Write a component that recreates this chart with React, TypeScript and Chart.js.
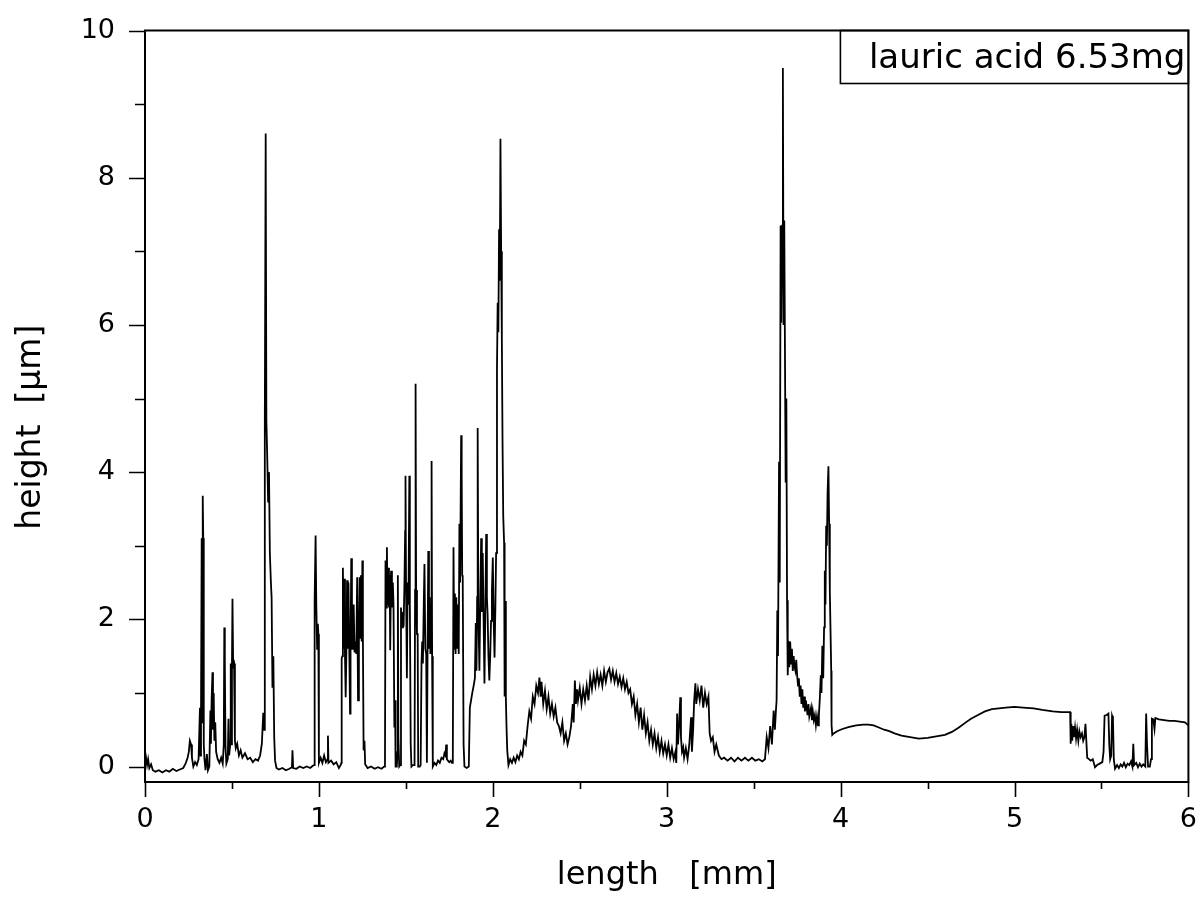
import React, { useEffect, useRef } from "react";
import { Chart, registerables } from "chart.js";

Chart.register(...registerables);

// ---- axis ticks / labels ----
const X_TICKS = [0, 1, 2, 3, 4, 5, 6];
const X_MINOR = [0.5, 1.5, 2.5, 3.5, 4.5, 5.5];
const Y_TICKS = [0, 2, 4, 6, 8, 10];
const Y_MINOR = [1, 3, 5, 7, 9];
const X_TITLE = "length   [mm]";
const Y_TITLE = "height  [µm]    ";
const LEGEND_LABEL = "lauric acid 6.53mg";

// ---- profile data: [length mm, height µm] ----
const start0to032: number[][] = [
  [0.0, 0.05], [0.006, 0.12], [0.012, 0.02], [0.018, 0.1], [0.025, -0.02], [0.035, 0.03], [0.045, -0.05],
  [0.06, -0.07], [0.08, -0.05], [0.1, -0.08], [0.12, -0.05], [0.14, -0.07], [0.16, -0.03], [0.18, -0.06],
  [0.2, -0.04], [0.22, -0.02], [0.235, 0.05], [0.245, 0.12], [0.252, 0.2], [0.258, 0.35], [0.265, 0.3],
  [0.27, 0.12], [0.278, 0.0], [0.288, 0.06], [0.298, 0.02], [0.308, 0.1],
];

const spikes032to076: number[][] = [
  [0.316, 0.8], [0.319, 0.15], [0.322, 0.7], [0.326, 3.1], [0.329, 0.6], [0.332, 3.68], [0.335, 3.1],
  [0.338, 0.3], [0.342, 0.1], [0.348, -0.05], [0.356, 0.17], [0.362, -0.05], [0.37, 0.0], [0.376, 0.76],
  [0.379, 0.31], [0.383, 0.9], [0.388, 1.28], [0.391, 0.5], [0.395, 1.0], [0.399, 0.35], [0.404, 0.6],
  [0.409, 0.2], [0.418, 0.1], [0.428, 0.05], [0.438, 0.12], [0.447, 0.04], [0.453, 0.3], [0.456, 1.89],
  [0.459, 1.41], [0.463, 0.26], [0.468, 0.04], [0.476, 0.1], [0.48, 0.65], [0.484, 0.15], [0.49, 0.3],
  [0.493, 1.4], [0.497, 0.3], [0.5, 1.37], [0.503, 2.28], [0.507, 1.37], [0.512, 1.4], [0.517, 0.35],
  [0.522, 0.25], [0.53, 0.31], [0.54, 0.15], [0.55, 0.22], [0.56, 0.12], [0.575, 0.18], [0.59, 0.1],
  [0.605, 0.12], [0.62, 0.06], [0.635, 0.1], [0.65, 0.08], [0.662, 0.15], [0.672, 0.31], [0.68, 0.73],
  [0.686, 0.5], [0.689, 4.7], [0.694, 8.6], [0.698, 4.7], [0.703, 4.2], [0.708, 3.6], [0.713, 4.0],
  [0.718, 2.9], [0.724, 2.5], [0.728, 2.3], [0.733, 1.07], [0.738, 1.5], [0.743, 0.4], [0.748, 0.08],
  [0.756, -0.02],
];

const baseline076to113: number[][] = [
  [0.77, -0.04], [0.79, -0.02], [0.81, -0.05], [0.83, -0.03], [0.845, -0.01], [0.848, 0.22], [0.852, -0.02],
  [0.87, -0.03], [0.89, 0.0], [0.91, -0.02], [0.93, 0.0], [0.95, -0.02], [0.965, 0.01], [0.972, 0.02],
  [0.974, 1.58], [0.977, 2.26], [0.981, 3.14], [0.985, 2.2], [0.99, 1.6], [0.994, 1.94], [0.997, 1.8],
  [1.0, 0.05], [1.01, 0.12], [1.02, 0.05], [1.03, 0.15], [1.04, 0.06], [1.05, 0.1], [1.052, 0.42],
  [1.055, 0.05], [1.07, 0.08], [1.085, 0.03], [1.1, 0.06], [1.115, -0.02], [1.125, 0.02],
];

const cluster113to138: number[][] = [
  [1.129, 0.05], [1.131, 1.47], [1.135, 1.5], [1.138, 2.7], [1.142, 1.6], [1.146, 2.55], [1.15, 1.5],
  [1.154, 0.94], [1.158, 1.55], [1.162, 2.53], [1.166, 1.6], [1.17, 2.5], [1.175, 1.53], [1.179, 0.72],
  [1.182, 1.55], [1.186, 2.83], [1.19, 1.6], [1.196, 1.6], [1.2, 2.2], [1.205, 1.55], [1.21, 1.7],
  [1.215, 1.53], [1.22, 2.57], [1.225, 0.9], [1.23, 1.7], [1.234, 2.57], [1.238, 1.75], [1.242, 2.6],
  [1.246, 1.7], [1.25, 2.8], [1.253, 1.75], [1.257, 0.22], [1.262, 0.35], [1.266, 0.03], [1.28, -0.02],
  [1.3, 0.0], [1.32, -0.03], [1.34, -0.01], [1.36, -0.03], [1.375, 0.0],
];

const cluster138to177: number[][] = [
  [1.38, 0.05], [1.383, 2.8], [1.387, 2.16], [1.391, 2.98], [1.395, 2.2], [1.399, 2.7], [1.403, 2.16],
  [1.407, 2.6], [1.41, 1.58], [1.415, 2.66], [1.42, 2.16], [1.425, 2.5], [1.429, 2.2], [1.434, 0.53],
  [1.438, 0.9], [1.441, 0.0], [1.448, 0.0], [1.452, 0.2], [1.454, 2.6], [1.457, 0.4], [1.462, 0.0],
  [1.468, 0.02], [1.472, 2.16], [1.478, 1.89], [1.483, 2.1], [1.487, 1.9], [1.492, 2.5], [1.496, 3.2],
  [1.498, 3.95], [1.501, 2.5], [1.506, 1.2], [1.51, 2.4], [1.515, 2.2], [1.52, 3.95], [1.523, 2.2],
  [1.528, 0.3], [1.532, 0.0], [1.54, 0.02], [1.55, 0.02], [1.553, 2.4], [1.556, 5.2], [1.559, 2.4],
  [1.564, 1.8], [1.568, 1.8], [1.571, 0.0], [1.58, 0.0], [1.585, 0.02], [1.59, 1.4], [1.594, 1.7],
  [1.598, 1.4], [1.603, 2.2], [1.607, 2.75], [1.612, 1.6], [1.617, 1.53], [1.621, 0.05], [1.625, 1.6],
  [1.629, 2.93], [1.633, 1.6], [1.637, 2.3], [1.641, 1.53], [1.645, 2.0], [1.648, 4.15], [1.651, 1.5],
  [1.655, 0.0], [1.665, 0.05], [1.675, 0.02], [1.685, 0.08], [1.695, 0.05], [1.705, 0.12], [1.715, 0.1],
  [1.722, 0.18], [1.728, 0.15], [1.732, 0.3], [1.736, 0.1], [1.742, 0.08], [1.75, 0.06], [1.758, 0.08],
  [1.765, 0.05],
];

const cluster177to209: number[][] = [
  [1.77, 0.05], [1.774, 2.98], [1.778, 1.6], [1.782, 2.35], [1.786, 1.53], [1.79, 2.3], [1.795, 1.6],
  [1.8, 2.2], [1.804, 1.53], [1.808, 3.3], [1.812, 2.5], [1.818, 4.5], [1.821, 4.0], [1.824, 2.6],
  [1.827, 2.57], [1.832, 0.3], [1.837, 0.0], [1.85, -0.02], [1.862, 0.0], [1.868, 0.8], [1.875, 0.9],
  [1.882, 1.0], [1.89, 1.1], [1.897, 1.2], [1.902, 1.95], [1.906, 1.3], [1.91, 2.3], [1.913, 4.6],
  [1.917, 2.1], [1.923, 1.3], [1.927, 2.08], [1.933, 3.1], [1.937, 2.1], [1.942, 2.9], [1.947, 2.0],
  [1.952, 1.13], [1.957, 2.1], [1.962, 3.16], [1.966, 2.3], [1.97, 2.08], [1.975, 1.5], [1.98, 1.17],
  [1.985, 1.5], [1.99, 1.98], [1.995, 2.4], [2.0, 2.84], [2.005, 2.0], [2.01, 1.48], [2.015, 2.2],
  [2.019, 2.9], [2.024, 5.4], [2.028, 6.3], [2.032, 5.9], [2.036, 7.3], [2.04, 6.6], [2.044, 8.53],
  [2.048, 7.0], [2.052, 5.8], [2.056, 4.4], [2.06, 3.4], [2.065, 3.04], [2.068, 0.95], [2.072, 2.25],
  [2.075, 0.94], [2.079, 0.53], [2.083, 0.22],
];

const humps209to363: number[][] = [
  [2.09, 0.02], [2.1, 0.1], [2.11, 0.05], [2.12, 0.12], [2.13, 0.06], [2.14, 0.15], [2.15, 0.1],
  [2.16, 0.2], [2.17, 0.15], [2.18, 0.35], [2.19, 0.3], [2.2, 0.55], [2.21, 0.75], [2.22, 0.65],
  [2.23, 0.95], [2.24, 0.85], [2.25, 1.1], [2.26, 1.0], [2.268, 1.21], [2.275, 0.95], [2.28, 1.15],
  [2.29, 0.85], [2.3, 1.03], [2.31, 0.78], [2.32, 0.95], [2.33, 0.72], [2.34, 0.85], [2.35, 0.68],
  [2.36, 0.8], [2.37, 0.6], [2.38, 0.55], [2.39, 0.45], [2.4, 0.6], [2.41, 0.35], [2.42, 0.45],
  [2.43, 0.3], [2.44, 0.4], [2.45, 0.55], [2.46, 0.85], [2.465, 0.6], [2.472, 1.17], [2.478, 0.85],
  [2.485, 1.05], [2.49, 0.9], [2.5, 1.07], [2.51, 0.85], [2.52, 1.05], [2.53, 0.9], [2.54, 1.1],
  [2.55, 0.9], [2.56, 1.22], [2.57, 1.05], [2.58, 1.25], [2.59, 1.1], [2.6, 1.28], [2.61, 1.12],
  [2.62, 1.25], [2.63, 1.1], [2.64, 1.3], [2.65, 1.15], [2.66, 1.28], [2.67, 1.33], [2.68, 1.18],
  [2.69, 1.3], [2.7, 1.15], [2.71, 1.27], [2.72, 1.12], [2.73, 1.22], [2.74, 1.08], [2.75, 1.2],
  [2.76, 1.05], [2.77, 1.15], [2.78, 1.0], [2.79, 1.05], [2.8, 0.85], [2.81, 0.95], [2.82, 0.7],
  [2.83, 0.85], [2.84, 0.6], [2.85, 0.8], [2.86, 0.5], [2.87, 0.7], [2.88, 0.45], [2.89, 0.6],
  [2.9, 0.35], [2.91, 0.5], [2.92, 0.3], [2.93, 0.45], [2.94, 0.25], [2.95, 0.4], [2.96, 0.2],
  [2.97, 0.35], [2.98, 0.18], [2.99, 0.3], [3.0, 0.15], [3.01, 0.3], [3.02, 0.12], [3.03, 0.25],
  [3.04, 0.1], [3.05, 0.2], [3.055, 0.05], [3.06, 0.72], [3.065, 0.3], [3.072, 0.6], [3.078, 0.94],
  [3.082, 0.4], [3.088, 0.2], [3.095, 0.26], [3.1, 0.12], [3.11, 0.25], [3.12, 0.1], [3.13, 0.3],
  [3.14, 0.67], [3.145, 0.2], [3.152, 0.5], [3.158, 0.9], [3.165, 1.13], [3.17, 0.85], [3.18, 1.05],
  [3.19, 0.9], [3.2, 1.1], [3.21, 0.8], [3.22, 1.0], [3.23, 0.85], [3.24, 0.95], [3.247, 0.45],
  [3.255, 0.35], [3.265, 0.4], [3.275, 0.2], [3.285, 0.3], [3.3, 0.15], [3.315, 0.1], [3.33, 0.12],
  [3.35, 0.08], [3.37, 0.12], [3.39, 0.07], [3.41, 0.12], [3.43, 0.08], [3.45, 0.12], [3.47, 0.08],
  [3.49, 0.12], [3.51, 0.08], [3.53, 0.1], [3.55, 0.07], [3.565, 0.1], [3.575, 0.4], [3.585, 0.25],
  [3.595, 0.55], [3.605, 0.3], [3.615, 0.76], [3.622, 0.5], [3.628, 0.76],
];

const spikes363to395: number[][] = [
  [3.632, 0.9], [3.636, 2.12], [3.64, 1.5], [3.646, 4.14], [3.65, 2.5], [3.655, 7.35], [3.659, 6.03],
  [3.664, 7.35], [3.668, 9.49], [3.672, 6.0], [3.676, 7.42], [3.68, 7.42], [3.684, 3.86], [3.688, 5.0],
  [3.692, 2.26], [3.696, 1.24], [3.7, 1.71], [3.705, 1.35], [3.71, 1.7], [3.715, 1.4], [3.72, 1.6],
  [3.725, 1.3], [3.73, 1.5], [3.735, 1.35], [3.74, 1.3], [3.745, 1.45], [3.75, 1.24], [3.755, 1.1],
  [3.76, 1.2], [3.765, 0.95], [3.77, 1.1], [3.775, 0.85], [3.78, 1.05], [3.785, 0.8], [3.79, 0.95],
  [3.795, 0.75], [3.8, 0.9], [3.81, 0.7], [3.815, 0.85], [3.82, 0.68], [3.83, 0.8], [3.835, 0.63],
  [3.84, 0.75], [3.846, 0.63], [3.852, 0.7], [3.858, 0.56], [3.864, 0.68], [3.87, 0.56], [3.875, 0.7],
  [3.88, 0.9], [3.886, 1.24], [3.89, 1.0], [3.895, 1.64], [3.9, 1.2], [3.905, 1.89], [3.909, 2.66],
  [3.913, 2.2], [3.917, 3.27], [3.921, 3.0], [3.925, 3.71], [3.93, 4.08], [3.934, 3.3], [3.938, 2.38],
  [3.942, 1.85], [3.946, 1.3], [3.948, 0.56], [3.952, 0.43],
];

const wave395to532: number[][] = [
  [3.96, 0.45], [3.98, 0.48], [4.01, 0.51], [4.05, 0.54], [4.09, 0.56], [4.13, 0.57], [4.16, 0.57],
  [4.19, 0.56], [4.22, 0.53], [4.25, 0.5], [4.28, 0.48], [4.31, 0.45], [4.35, 0.42], [4.4, 0.4],
  [4.45, 0.38], [4.5, 0.39], [4.55, 0.41], [4.6, 0.43], [4.64, 0.47], [4.68, 0.53], [4.72, 0.6],
  [4.75, 0.65], [4.79, 0.7], [4.83, 0.75], [4.87, 0.78], [4.91, 0.79], [4.95, 0.8], [5.0, 0.81],
  [5.05, 0.8], [5.11, 0.79], [5.16, 0.77], [5.22, 0.75], [5.27, 0.74], [5.32, 0.74],
];

const steps532to600: number[][] = [
  [5.323, 0.31], [5.327, 0.58], [5.332, 0.35], [5.337, 0.55], [5.342, 0.4], [5.348, 0.53], [5.354, 0.38],
  [5.36, 0.5], [5.367, 0.35], [5.373, 0.48], [5.38, 0.4], [5.388, 0.45], [5.395, 0.35], [5.402, 0.4],
  [5.408, 0.58], [5.413, 0.35], [5.418, 0.12], [5.428, 0.1], [5.438, 0.08], [5.45, 0.1], [5.463, -0.01],
  [5.475, 0.02], [5.49, 0.04], [5.505, 0.06], [5.512, 0.2], [5.518, 0.69], [5.53, 0.7], [5.54, 0.72],
  [5.545, 0.3], [5.55, 0.1], [5.556, 0.15], [5.561, 0.69], [5.566, 0.65], [5.571, 0.1], [5.578, -0.03],
  [5.59, 0.02], [5.6, -0.02], [5.61, 0.03], [5.62, 0.0], [5.63, 0.05], [5.64, -0.01], [5.65, 0.04],
  [5.66, 0.02], [5.67, 0.07], [5.678, 0.0], [5.683, 0.31], [5.688, 0.02], [5.7, 0.05], [5.71, -0.01],
  [5.72, 0.04], [5.73, 0.0], [5.74, 0.03], [5.752, 0.0], [5.757, 0.72], [5.762, 0.3], [5.768, 0.0],
  [5.778, 0.0], [5.785, 0.1], [5.79, 0.65], [5.798, 0.64], [5.805, 0.51], [5.81, 0.66], [5.83, 0.64],
  [5.86, 0.63], [5.89, 0.62], [5.92, 0.62], [5.95, 0.61], [5.98, 0.6], [6.0, 0.56],
];

const FONT = '"DejaVu Sans", "Liberation Sans", sans-serif';

const frameTicksPlugin = {
  id: "frameTicks",
  afterDraw(chart: any) {
    const { ctx, chartArea: a, scales } = chart;
    const xs = scales.x;
    const ys = scales.y;
    ctx.save();
    ctx.strokeStyle = "#000";
    ctx.lineWidth = 2;
    ctx.strokeRect(a.left, a.top, a.right - a.left, a.bottom - a.top);
    ctx.lineWidth = 1.6;
    ctx.beginPath();
    for (const v of Y_TICKS) {
      const p = Math.round(ys.getPixelForValue(v)) + 0.5;
      ctx.moveTo(a.left - 16, p);
      ctx.lineTo(a.left, p);
    }
    for (const v of Y_MINOR) {
      const p = Math.round(ys.getPixelForValue(v)) + 0.5;
      ctx.moveTo(a.left - 10, p);
      ctx.lineTo(a.left, p);
    }
    for (const v of X_TICKS) {
      const p = Math.round(xs.getPixelForValue(v)) + 0.5;
      ctx.moveTo(p, a.bottom);
      ctx.lineTo(p, a.bottom + 15);
    }
    for (const v of X_MINOR) {
      const p = Math.round(xs.getPixelForValue(v)) + 0.5;
      ctx.moveTo(p, a.bottom);
      ctx.lineTo(p, a.bottom + 7);
    }
    ctx.stroke();

    // legend box
    const bx = a.right - 348;
    const bh = 53;
    ctx.lineWidth = 1.6;
    ctx.strokeRect(bx, a.top, a.right - bx, bh);
    ctx.fillStyle = "#000";
    ctx.font = `34px ${FONT}`;
    ctx.textAlign = "right";
    ctx.textBaseline = "alphabetic";
    ctx.fillText(LEGEND_LABEL, a.right - 3, a.top + 37);
    ctx.restore();
  },
};

export default function App() {
  const ref = useRef<HTMLCanvasElement | null>(null);

  useEffect(() => {
    if (!ref.current) return;
    const points = [
      ...start0to032,
      ...spikes032to076,
      ...baseline076to113,
      ...cluster113to138,
      ...cluster138to177,
      ...cluster177to209,
      ...humps209to363,
      ...spikes363to395,
      ...wave395to532,
      ...steps532to600,
    ].map(([x, y]) => ({ x, y }));

    const chart = new Chart(ref.current, {
      type: "line",
      data: {
        datasets: [
          {
            data: points,
            borderColor: "#000",
            borderWidth: 1.8,
            pointRadius: 0,
            tension: 0,
            fill: false,
          },
        ],
      },
      options: {
        animation: false,
        responsive: false,
        maintainAspectRatio: false,
        devicePixelRatio: 1,
        layout: { padding: { top: 30.5, right: 14, left: 0, bottom: 0 } },
        plugins: { legend: { display: false }, tooltip: { enabled: false } },
        scales: {
          x: {
            type: "linear",
            min: 0,
            max: 6,
            afterBuildTicks: (s: any) => {
              s.ticks = X_TICKS.map((v) => ({ value: v }));
            },
            afterFit: (s: any) => {
              s.height = 121;
            },
            grid: { display: false, drawTicks: true, tickLength: 15 },
            border: { display: false },
            ticks: {
              color: "#000",
              font: { family: FONT, size: 27 },
              padding: 7,
              maxRotation: 0,
              autoSkip: false,
            },
            title: {
              display: true,
              text: X_TITLE,
              color: "#000",
              font: { family: FONT, size: 32 },
              padding: { top: 0, bottom: 8 },
            },
          },
          y: {
            type: "linear",
            min: -0.21,
            max: 10,
            afterBuildTicks: (s: any) => {
              s.ticks = Y_TICKS.map((v) => ({ value: v }));
            },
            afterFit: (s: any) => {
              s.width = 145;
            },
            grid: { display: false, drawTicks: true, tickLength: 16 },
            border: { display: false },
            ticks: {
              color: "#000",
              font: { family: FONT, size: 27 },
              padding: 14,
              autoSkip: false,
            },
            title: {
              display: true,
              text: Y_TITLE,
              color: "#000",
              font: { family: FONT, size: 33 },
              padding: { top: 12, bottom: 0 },
            },
          },
        },
      },
      plugins: [frameTicksPlugin],
    } as any);

    return () => chart.destroy();
  }, []);

  return (
    <div style={{ position: "absolute", left: 0, top: 0, width: 1204, height: 903, background: "#fff" }}>
      <canvas ref={ref} width={1204} height={903} style={{ display: "block", width: 1204, height: 903 }} />
    </div>
  );
}
